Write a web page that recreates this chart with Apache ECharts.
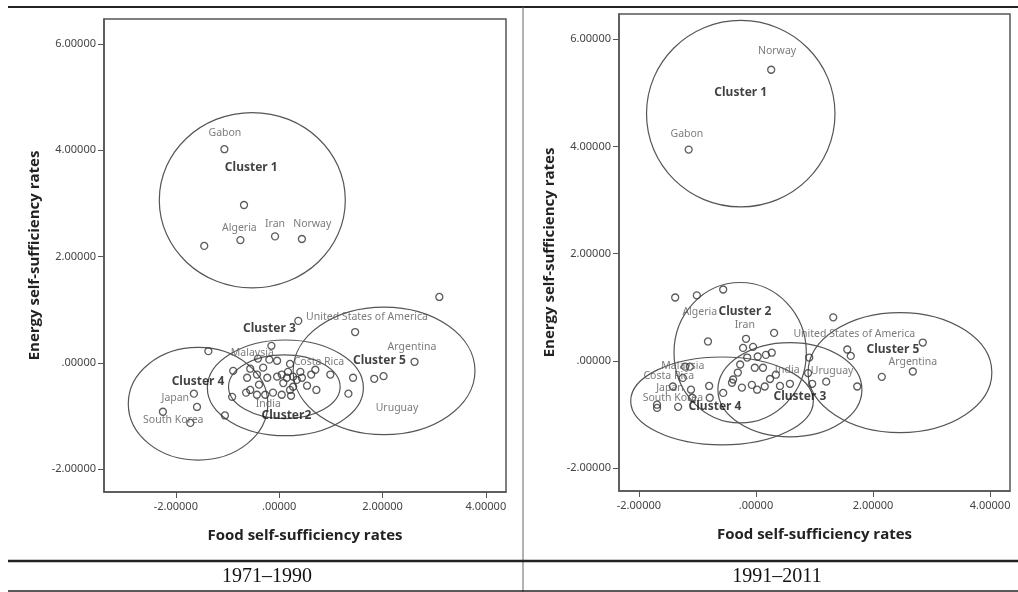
<!DOCTYPE html>
<html>
<head>
<meta charset="utf-8">
<script src="https://cdn.jsdelivr.net/npm/echarts@6/dist/echarts.min.js"></script>
<style>
    html, body {margin: 0; padding: 0; background: #fff;}
    #main {width: 1018px; height: 592px;}
</style>
</head>
<body>
<div id="main"></div>
<script>
    // tick values shared by both panels
    var yTicks = [-2, 0, 2, 4, 6];
    var xTicks = [-2, 0, 2, 4];
    var periods = ['1971\u20131990', '1991\u20132011'];

    // 1971-1990 : [food, energy]
    var points1 = [
        [-1.06, 4.02], [-0.68, 2.97], [-1.45, 2.20], [-0.75, 2.31], [-0.08, 2.38], [0.44, 2.33],
        [3.10, 1.24], [0.37, 0.79], [1.47, 0.58], [2.62, 0.02], [2.02, -0.25], [1.84, -0.30],
        [1.43, -0.28], [1.34, -0.58], [0.99, -0.22], [0.70, -0.13], [0.62, -0.22], [0.72, -0.51],
        [0.54, -0.43], [-0.15, 0.32], [-1.37, 0.22], [-0.41, 0.08], [-0.19, 0.06], [-0.04, 0.04],
        [0.21, -0.02], [-0.89, -0.15], [-0.56, -0.11], [-0.43, -0.22], [-0.23, -0.28], [-0.04, -0.26],
        [0.05, -0.22], [0.15, -0.28], [0.17, -0.17], [0.27, -0.26], [0.34, -0.32], [0.44, -0.28],
        [0.27, -0.45], [0.21, -0.51], [0.08, -0.38], [-0.39, -0.41], [-0.56, -0.51], [-0.64, -0.56],
        [-0.43, -0.60], [-0.27, -0.60], [-0.12, -0.56], [0.05, -0.60], [0.23, -0.62], [-0.91, -0.64],
        [-1.05, -0.99], [-1.65, -0.58], [-1.59, -0.83], [-2.25, -0.92], [-1.72, -1.13],
        [-0.31, -0.09], [0.41, -0.17], [-0.62, -0.28]
    ];
    var names1 = [
        ['Gabon', -1.05, 4.32], ['Algeria', -0.77, 2.54], ['Iran', -0.08, 2.61], ['Norway', 0.64, 2.61],
        ['United States of America', 1.70, 0.86], ['Argentina', 2.57, 0.30], ['Malaysia', -0.52, 0.19],
        ['Costa Rica', 0.77, 0.02], ['Japan', -2.01, -0.66], ['South Korea', -2.05, -1.07],
        ['India', -0.21, -0.77], ['Uruguay', 2.28, -0.85]
    ];
    var clusters1 = [
        ['Cluster 1', -0.54, 3.68], ['Cluster 3', -0.19, 0.64], ['Cluster 5', 1.94, 0.04],
        ['Cluster 4', -1.57, -0.36], ['Cluster2', 0.14, -1.00]
    ];
    // [cx, cy, rx, ry]
    var ellipses1 = [
        [-0.52, 3.06, 1.80, 1.65], [-1.57, -0.77, 1.35, 1.06], [0.12, -0.47, 1.51, 0.90],
        [0.10, -0.45, 1.08, 0.60], [2.03, -0.15, 1.76, 1.20]
    ];

    // 1991-2011
    var points2 = [
        [0.26, 5.43], [-1.15, 3.94], [-1.38, 1.18], [-1.01, 1.22], [-0.56, 1.33], [-0.82, 0.36],
        [-0.17, 0.41], [0.31, 0.52], [1.32, 0.81], [2.85, 0.34], [1.56, 0.21], [1.62, 0.09],
        [2.68, -0.20], [2.15, -0.30], [1.73, -0.48], [1.20, -0.39], [0.96, -0.43], [0.91, 0.06],
        [0.89, -0.23], [0.58, -0.43], [0.41, -0.47], [0.34, -0.26], [0.27, 0.15], [0.17, 0.11],
        [0.03, 0.08], [-0.05, 0.26], [-0.22, 0.24], [-0.15, 0.06], [-0.27, -0.07], [-0.02, -0.13],
        [0.12, -0.13], [-0.31, -0.22], [-0.39, -0.35], [-0.41, -0.41], [-0.24, -0.50], [-0.07, -0.45],
        [0.02, -0.54], [0.15, -0.48], [0.24, -0.34], [-0.56, -0.60], [-0.80, -0.47], [-0.79, -0.69],
        [-1.11, -0.54], [-1.25, -0.32], [-1.21, -0.11], [-1.42, -0.48], [-1.33, -0.86], [-1.69, -0.82],
        [-1.69, -0.88], [-1.09, -0.69], [-1.13, -0.11]
    ];
    var names2 = [
        ['Norway', 0.36, 5.78], ['Gabon', -1.18, 4.24], ['Algeria', -0.96, 0.91], ['Iran', -0.19, 0.67],
        ['United States of America', 1.68, 0.49], ['Argentina', 2.68, -0.02], ['India', 0.53, -0.17],
        ['Uruguay', 1.30, -0.19], ['Malaysia', -1.25, -0.09], ['Costa Rica', -1.49, -0.28],
        ['Japan', -1.47, -0.50], ['South Korea', -1.42, -0.69]
    ];
    var clusters2 = [
        ['Cluster 1', -0.26, 5.00], ['Cluster 2', -0.19, 0.91], ['Cluster 5', 2.34, 0.21],
        ['Cluster 3', 0.75, -0.67], ['Cluster 4', -0.70, -0.86]
    ];
    var ellipses2 = [
        [-0.26, 4.61, 1.61, 1.74], [-0.27, 0.15, 1.13, 1.31], [-0.58, -0.75, 1.56, 0.82],
        [0.58, -0.54, 1.23, 0.88], [2.46, -0.22, 1.57, 1.12]
    ];

    var myChart = echarts.init(document.getElementById('main'));

    function fmt(v) {
        var s = v.toFixed(5);
        return s.replace(/^0\./, '.').replace(/^-0\./, '-.');
    }

    function xAxis(idx, min, max) {
        return {
            type: 'value', gridIndex: idx, min: min, max: max,
            name: 'Food self-sufficiency rates', nameLocation: 'middle', nameGap: 36,
            nameTextStyle: {fontFamily: 'Open Sans', fontWeight: 'bold', fontSize: 15, color: '#222'},
            splitLine: {show: false},
            axisLine: {show: true, onZero: false, lineStyle: {color: '#555', width: 1.5}},
            axisTick: {show: true, length: 6, customValues: xTicks, lineStyle: {color: '#555'}},
            axisLabel: {customValues: xTicks, margin: 9, fontSize: 11, color: '#444',
                fontFamily: 'Noto Sans', formatter: fmt}
        };
    }

    function yAxis(idx, min, max) {
        return {
            type: 'value', gridIndex: idx, min: min, max: max,
            name: 'Energy self-sufficiency rates', nameLocation: 'middle', nameGap: 62,
            nameTextStyle: {fontFamily: 'Open Sans', fontWeight: 'bold', fontSize: 15, color: '#222'},
            splitLine: {show: false},
            axisLine: {show: true, onZero: false, lineStyle: {color: '#555', width: 1.5}},
            axisTick: {show: true, length: 6, customValues: yTicks, lineStyle: {color: '#555'}},
            axisLabel: {customValues: yTicks, margin: 8, fontSize: 11, color: '#444',
                fontFamily: 'Noto Sans', formatter: fmt}
        };
    }

    function ellipseSeries(idx, data) {
        return {
            type: 'custom', xAxisIndex: idx, yAxisIndex: idx, data: data, silent: true, z: 1,
            renderItem: function (params, api) {
                var c = api.coord([api.value(0), api.value(1)]);
                var s = api.size([api.value(2), api.value(3)]);
                return {
                    type: 'ellipse',
                    shape: {cx: c[0], cy: c[1], rx: s[0], ry: s[1]},
                    style: {fill: 'none', stroke: '#555', lineWidth: 1.2}
                };
            }
        };
    }

    function pointSeries(idx, data) {
        return {
            type: 'scatter', xAxisIndex: idx, yAxisIndex: idx, data: data, z: 3,
            symbol: 'circle', symbolSize: 7,
            itemStyle: {color: 'rgba(0,0,0,0)', borderColor: '#333', borderWidth: 1.3}
        };
    }

    function textSeries(idx, list, bold) {
        return {
            type: 'scatter', xAxisIndex: idx, yAxisIndex: idx, symbolSize: 0, silent: true, z: 4,
            data: list.map(function (d) { return {name: d[0], value: [d[1], d[2]]}; }),
            label: {
                show: true, position: 'inside', formatter: '{b}',
                fontFamily: 'Noto Sans', fontSize: bold ? 12 : 10.5,
                fontWeight: bold ? 'bold' : 'normal', color: bold ? '#111' : '#5a5a5a'
            }
        };
    }

    var option = {
        backgroundColor: '#fff',
        animation: false,
        grid: [
            {left: 104, top: 19, width: 402, height: 473, show: true, borderColor: '#555', borderWidth: 1.5},
            {left: 619, top: 14, width: 391, height: 477, show: true, borderColor: '#555', borderWidth: 1.5}
        ],
        xAxis: [xAxis(0, -3.39, 4.39), xAxis(1, -2.34, 4.34)],
        yAxis: [yAxis(0, -2.43, 6.47), yAxis(1, -2.43, 6.47)],
        series: [
            ellipseSeries(0, ellipses1), pointSeries(0, points1),
            textSeries(0, names1, false), textSeries(0, clusters1, true),
            ellipseSeries(1, ellipses2), pointSeries(1, points2),
            textSeries(1, names2, false), textSeries(1, clusters2, true)
        ],
        graphic: [
            {type: 'line', shape: {x1: 8, y1: 7, x2: 1018, y2: 7}, style: {stroke: '#222', lineWidth: 2}},
            {type: 'line', shape: {x1: 523, y1: 7, x2: 523, y2: 592}, style: {stroke: '#666', lineWidth: 1}},
            {type: 'line', shape: {x1: 8, y1: 561, x2: 1018, y2: 561}, style: {stroke: '#222', lineWidth: 2.5}},
            {type: 'line', shape: {x1: 8, y1: 591, x2: 1018, y2: 591}, style: {stroke: '#222', lineWidth: 1.5}},
            {type: 'text', x: 267, y: 577, style: {text: periods[0], fill: '#111',
                font: '20px "Liberation Serif"', textAlign: 'center', textVerticalAlign: 'middle'}},
            {type: 'text', x: 777, y: 577, style: {text: periods[1], fill: '#111',
                font: '20px "Liberation Serif"', textAlign: 'center', textVerticalAlign: 'middle'}}
        ]
    };

    myChart.setOption(option);
    window.addEventListener("resize", function () {
        myChart.resize();
    });
</script>
</body>
</html>
